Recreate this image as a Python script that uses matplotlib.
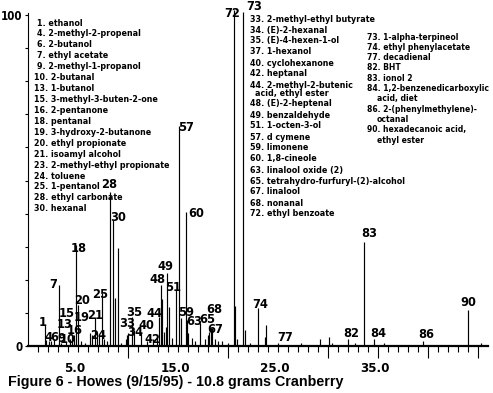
import matplotlib
matplotlib.use("Agg")
import matplotlib.pyplot as plt
from matplotlib import font_manager as fm
from matplotlib import transforms
from matplotlib.ticker import FixedLocator, NullFormatter

# ---------------- data ----------------
# retention time (min), relative abundance (%), peak label ('' = unlabeled)
peak_time = [1.67, 1.77, 2.07, 2.30, 2.60, 3.07, 3.30, 3.80, 4.17, 4.40, 4.60, 4.77,
             5.00, 5.30, 5.70, 6.20, 6.40, 6.67, 6.90, 7.10, 7.40, 7.60, 7.90, 8.17,
             8.45, 8.73, 8.97, 9.30, 9.80, 9.90, 10.00, 10.40, 10.60, 11.30, 11.90, 12.50,
             12.90, 13.10, 13.30, 13.40, 13.60, 13.80, 13.90, 14.10, 14.40, 14.80, 15.10,
             15.30, 15.77, 15.90, 16.00, 16.40, 16.70, 17.20, 17.70, 18.00, 18.10, 18.30,
             18.40, 18.70, 19.00, 19.40, 20.00, 20.60, 20.65, 20.90, 21.50, 21.70, 22.20,
             23.00, 23.70, 23.80, 25.00, 27.30, 29.20, 30.10, 30.40, 32.00, 32.70, 33.55,
             34.60, 35.60, 39.50, 44.00, 45.30]
peak_height = [6.3, 1.8, 1.5, 1.5, 2.1, 18.4, 1.0, 1.2, 2.0, 3.3, 3.3, 30.5,
               12.4, 1.5, 1.0, 4.0, 3.3, 8.8, 4.2, 3.0, 16.0, 2.0, 1.5, 46.5,
               38.0, 14.5, 29.6, 1.0, 2.0, 3.3, 4.0, 8.8, 4.8, 4.0, 1.5, 2.0,
               2.5, 8.8, 18.4, 14.2, 4.2, 5.7, 22.0, 11.8, 2.4, 17.0, 66.5,
               8.5, 40.5, 7.9, 4.0, 2.4, 1.5, 7.0, 2.0, 3.3, 4.2, 5.4,
               5.4, 2.0, 1.5, 1.5, 1.0, 101.5, 12.0, 2.0, 101.0, 4.8, 1.0,
               11.5, 2.7, 6.3, 1.0, 1.0, 2.0, 2.7, 1.0, 2.0, 1.0, 31.4,
               2.0, 1.0, 1.5, 11.0, 1.0]
peak_label = ['1', '', '4', '', '6', '7', '9', '13', '10', '15', '16', '18',
              '20', '19', '', '', '', '21', '24', '', '25', '', '', '28',
              '30', '', '', '', '', '33', '', '35', '34', '40', '42', '',
              '', '44', '48', '', '', '', '49', '', '', '51', '57',
              '59', '60', '63', '', '', '', '65', '', '', '68', '67',
              '', '', '', '', '', '72', '', '', '73', '', '',
              '74', '', '', '77', '', '', '', '', '82', '', '83',
              '84', '', '86', '90', '']

x_ticklabel_pos = [5, 15, 25, 35]
x_ticklabels = ['5.0', '15.0', '25.0', '35.0']
y_ticklabel_pos = [0, 100]
y_ticklabels = ['0', '100']

legend_col1 = ['1. ethanol', '4. 2-methyl-2-propenal', '6. 2-butanol', '7. ethyl acetate',
               '9. 2-methyl-1-propanol', '10. 2-butanal', '13. 1-butanol',
               '15. 3-methyl-3-buten-2-one', '16. 2-pentanone', '18. pentanal',
               '19. 3-hydroxy-2-butanone', '20. ethyl propionate', '21. isoamyl alcohol',
               '23. 2-methyl-ethyl propionate', '24. toluene', '25. 1-pentanol',
               '28. ethyl carbonate', '30. hexanal']
legend_col2 = ['33. 2-methyl-ethyl butyrate', '34. (E)-2-hexanal', '35. (E)-4-hexen-1-ol',
               '37. 1-hexanol', '40. cyclohexanone', '42. heptanal',
               '44. 2-methyl-2-butenic\nacid, ethyl ester', '48. (E)-2-heptenal',
               '49. benzaldehyde', '51. 1-octen-3-ol', '57. d cymene', '59. limonene',
               '60. 1,8-cineole', '63. linalool oxide (2)',
               '65. tetrahydro-furfuryl-(2)-alcohol', '67. linalool', '68. nonanal',
               '72. ethyl benzoate']
legend_col3 = ['73. 1-alpha-terpineol', '74. ethyl phenylacetate', '77. decadienal',
               '82. BHT', '83. ionol 2', '84. 1,2-benzenedicarboxylic\nacid, diet',
               '86. 2-(phenylmethylene)-\noctanal', '90. hexadecanoic acid,\nethyl ester']

title = 'Figure 6 - Howes (9/15/95) - 10.8 grams Cranberry'

# ---------------- layout (pixels of a 493x393 canvas) ----------------
W, H = 493, 393
label_offset = {  # label centre relative to the peak top, pixels (right, up)
    '1': (-1.7, 3), '4': (0, 4), '6': (0, 2), '7': (-6, 1), '9': (0, 4), '10': (-1.7, 0),
    '13': (-1, 18), '15': (-5, 22), '16': (1, 5), '18': (3.3, -3), '19': (1, 24),
    '20': (4, 4), '21': (0, 1), '24': (1, -3), '25': (-2, -1), '28': (-0.7, 8),
    '30': (5.5, 3), '33': (0, 12), '34': (1, -2), '35': (2, 4), '40': (5, 7),
    '42': (5, 2), '44': (-5, 3), '48': (-4, 6), '49': (-2, 7), '51': (-3, 2),
    '57': (7, -2), '59': (5, 5), '60': (10, -2), '63': (7, -2), '65': (7, 3),
    '67': (4, -1), '68': (5, 23), '72': (-2, -3), '73': (11, 5), '74': (2, 3),
    '77': (7, 5), '82': (3, 6), '83': (5.5, 9), '84': (4, 6), '86': (3, 7), '90': (0, 7),
}

names = {f.name for f in fm.fontManager.ttflist}
if 'Liberation Sans Narrow' in names:
    NARROW = dict(family='Liberation Sans Narrow', weight='bold')
else:
    NARROW = dict(family='DejaVu Sans', weight='bold', stretch='condensed')
WIDE = dict(family='Liberation Sans', weight='bold')

fig = plt.figure(figsize=(W / 100, H / 100), dpi=100)
fig.patch.set_facecolor('white')

ax_left, ax_right, ax_bottom, ax_top = 28, 488, 346, 3
ax = fig.add_axes([ax_left / W, 1 - ax_bottom / H, (ax_right - ax_left) / W,
                   (ax_bottom - ax_top) / H])
px_per_unit = 3.31
ax.set_xlim(0, (ax_right - ax_left) / 10.0)
ax.set_ylim(0, (ax_bottom - ax_top) / px_per_unit)
ax.set_facecolor('white')

ax.vlines(peak_time, 0, peak_height, colors='black', linewidth=0.85, clip_on=False)

for t, h, lab in zip(peak_time, peak_height, peak_label):
    if lab:
        dx, dy = label_offset[lab]
        ax.annotate(lab, xy=(t, h), xytext=(dx, dy), textcoords='offset pixels',
                    ha='center', va='center', fontsize=9.2, color='black', **NARROW)

for s in ['top', 'right']:
    ax.spines[s].set_visible(False)
ax.spines['bottom'].set_linewidth(1.6)
ax.spines['left'].set_linewidth(0.8)
ax.spines['left'].set_bounds(0, 100.6)

# x ticks: short every minute, long ticks at selected positions
ax.xaxis.set_minor_locator(FixedLocator([i for i in range(1, 46)]))
ax.xaxis.set_major_locator(FixedLocator([10, 20, 30, 35, 40, 45]))
ax.xaxis.set_major_formatter(NullFormatter())
ax.tick_params(axis='x', which='minor', direction='out', length=4, width=0.8, color='black')
ax.tick_params(axis='x', which='major', direction='out', length=8.5, width=0.8, color='black')
tr = transforms.blended_transform_factory(ax.transData, fig.transFigure)
for xp, xl in zip(x_ticklabel_pos, x_ticklabels):
    ax.text(xp - 0.3, 1 - 369 / H, xl, transform=tr, ha='center', va='center',
            fontsize=9.5, color='black', **NARROW)

# y ticks
ax.yaxis.set_major_locator(FixedLocator(y_ticklabel_pos))
ax.set_yticklabels(y_ticklabels, fontsize=8.3, **NARROW)
ax.yaxis.set_minor_locator(FixedLocator([10, 20, 30, 40, 50, 60, 70, 80, 90]))
ax.tick_params(axis='y', which='both', direction='out', length=2.2, width=0.8,
               color='black', pad=2.0)

# compound list
def ftext(x, y, s, size=6.4, **kw):
    fig.text(x / W, 1 - y / H, s, ha='left', va='center', fontsize=size,
             color='black', **NARROW, **kw)

y = 23.0
for s in legend_col1:
    x = 37 if len(s.split('.')[0]) == 1 else 34
    ftext(x, y, s)
    y += 10.93

y = 19.0
for s in legend_col2:
    parts = s.split('\n')
    ftext(250, y, parts[0])
    if len(parts) > 1:
        y += 8.0
        ftext(255, y, parts[1])
    y += 11.0

y = 37.0
for s in legend_col3:
    parts = s.split('\n')
    ftext(367, y, parts[0], size=6.1)
    for p in parts[1:]:
        y += 10.3
        ftext(377, y, p, size=6.1)
    y += 10.3

fig.text(8 / W, 1 - 382 / H, title, ha='left', va='center', fontsize=10.3,
         color='black', **WIDE)

fig.savefig('out.png', dpi=100, facecolor='white')
